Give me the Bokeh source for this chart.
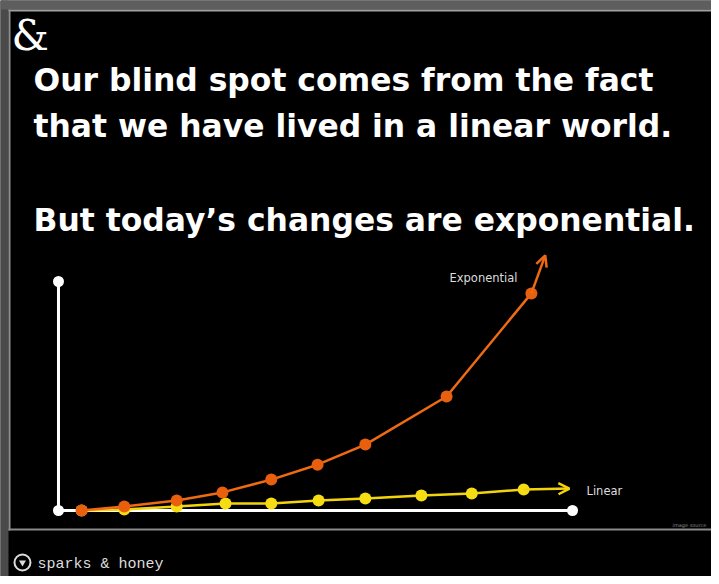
from bokeh.plotting import figure
from bokeh.models import Range1d, Label, BoxAnnotation, Arrow, OpenHead
from bokeh.embed import file_html
from bokeh.resources import INLINE

# ---- data ----
axis_x_max = 10.0
axis_y_max = 100.0

exp_x = [0.45, 1.28, 2.30, 3.19, 4.14, 5.04, 5.97, 7.55, 9.20]
exp_y = [0.0, 1.7, 4.4, 7.9, 13.5, 20.0, 28.8, 49.8, 94.8]
exp_tip_x = [9.47]
exp_tip_y = [111.4]

lin_x = [0.45, 1.28, 2.30, 3.25, 4.14, 5.06, 5.97, 7.06, 8.04, 9.05]
lin_y = [0.0, 0.4, 1.7, 3.1, 3.1, 4.4, 5.2, 6.6, 7.4, 9.2]
lin_tip_x = [9.94]
lin_tip_y = [9.6]

title_lines = [
    "Our blind spot comes from the fact",
    "that we have lived in a linear world.",
    "But today\u2019s changes are exponential.",
]

W, H = 711, 576
ORANGE_LINE = "#ef6a12"
ORANGE_DOT = "#e8600e"
YELLOW_LINE = "#f3d40c"
YELLOW_DOT = "#f6dc12"

p = figure(width=W, height=H, output_backend="svg", toolbar_location=None,
           x_range=Range1d(-1.128, 12.704), y_range=Range1d(-28.82, 222.71),
           x_axis_location=None, y_axis_location=None, min_border=0,
           background_fill_color="black", border_fill_color="black",
           outline_line_color=None)
p.grid.visible = False

# ---- slide frame decorations (screen units, frame == canvas) ----
def box(l, r, b, t, c):
    p.add_layout(BoxAnnotation(left=l, right=r, bottom=b, top=t,
                               left_units="screen", right_units="screen",
                               bottom_units="screen", top_units="screen",
                               fill_color=c, fill_alpha=1.0, line_color=None))

box(0, 8, 0, H, "#4a4a4a")
box(0, W, H - 9, H, "#5e5e5e")
box(8, W, H - 11, H - 9, "#a0a0a0")
box(8, 10, 46, H - 9, "#8e8e8e")
box(8, W, 46, 48, "#8a8a8a")

# ---- axes ----
p.segment(x0=[0, 0], y0=[0, 0], x1=[0, axis_x_max], y1=[axis_y_max, 0],
          line_color="white", line_width=3)
p.scatter(x=[0, 0, axis_x_max], y=[axis_y_max, 0, 0], size=11,
          fill_color="white", line_color=None)

# ---- linear series ----
p.line(lin_x, lin_y, line_color=YELLOW_LINE, line_width=2.5)
p.add_layout(Arrow(end=OpenHead(size=11, line_color=YELLOW_LINE, line_width=2.5),
                   x_start=lin_x[-1], y_start=lin_y[-1],
                   x_end=lin_tip_x[0], y_end=lin_tip_y[0],
                   line_color=YELLOW_LINE, line_width=2.5))
p.scatter(lin_x, lin_y, size=12, fill_color=YELLOW_DOT, line_color=None)

# ---- exponential series ----
p.line(exp_x, exp_y, line_color=ORANGE_LINE, line_width=2.5)
p.add_layout(Arrow(end=OpenHead(size=11, line_color=ORANGE_LINE, line_width=2.5),
                   x_start=exp_x[-1], y_start=exp_y[-1],
                   x_end=exp_tip_x[0], y_end=exp_tip_y[0],
                   line_color=ORANGE_LINE, line_width=2.5))
p.scatter(exp_x, exp_y, size=12, fill_color=ORANGE_DOT, line_color=None)

# ---- texts ----
def lab(x, y, text, size, color="white", font="DejaVu Sans", style="normal"):
    p.add_layout(Label(x=x, y=y, x_units="screen", y_units="screen", text=text,
                       text_font=font, text_font_size=size, text_color=color,
                       text_font_style=style, text_baseline="alphabetic"))

lab(11, 541, "&", "42px", font="DejaVu Serif")
lab(33, 497, title_lines[0], "31.4px", style="bold")
lab(33, 451, title_lines[1], "31.4px", style="bold")
lab(33, 357, title_lines[2], "31.4px", style="bold")
lab(449, 299, "Exponential", "11.5px", color="#dddddd")
lab(586, 86, "Linear", "11.5px", color="#dddddd")
lab(672, 52, "image source", "5px", color="#888888")
lab(37, 12, "sparks & honey", "15px", color="#dddddd", font="Liberation Mono")

# twitter-like icon
p.scatter(x=[(30 - 66) / 51.4], y=[(518 - 570) / 2.29], size=16,
          fill_color=None, line_color="#dddddd", line_width=2)
p.scatter(x=[(30 - 66) / 51.4], y=[(518 - 570) / 2.29], marker="inverted_triangle",
          size=7, fill_color="#dddddd", line_color=None)

open("out.html", "w").write(file_html(p, INLINE))
